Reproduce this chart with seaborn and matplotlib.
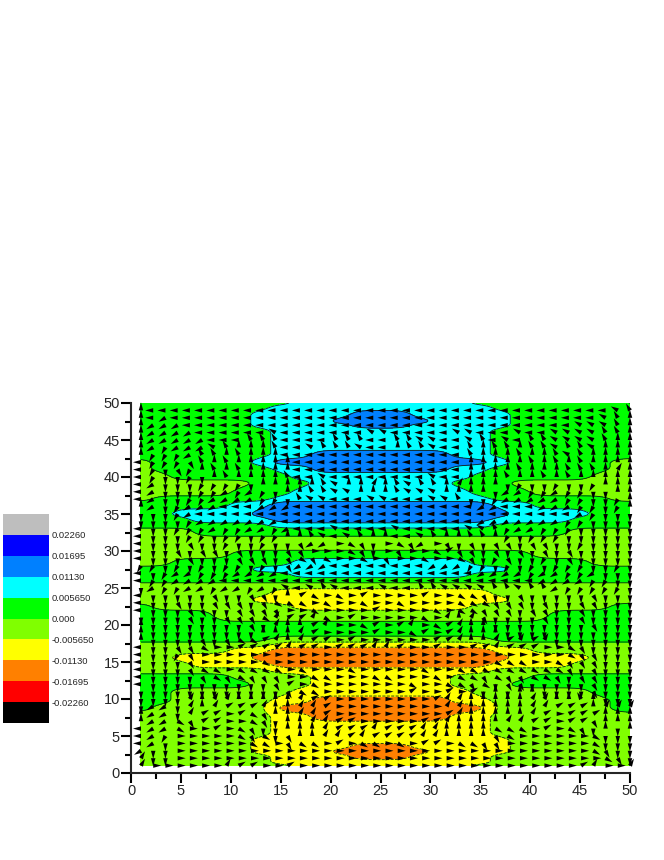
#!/usr/bin/env python
import matplotlib
matplotlib.use("Agg")
import matplotlib.pyplot as plt
from matplotlib.colors import ListedColormap
import numpy as np
import seaborn as sns

# colour key, bottom to top
band_colors = ["#000000", "#FF0000", "#FF8000", "#FFFF00", "#80FF00",
               "#00FF00", "#00FFFF", "#0080FF", "#0000FF", "#BEBEBE"]
key_levels = [-0.02260, -0.01695, -0.01130, -0.005650, 0.0,
              0.005650, 0.01130, 0.01695, 0.02260]
key_labels = ["-0.02260", "-0.01695", "-0.01130", "-0.005650", "0.000",
              "0.005650", "0.01130", "0.01695", "0.02260"]

# contour map: one digit per column = band number
# 3 orange, 4 yellow, 5 yellow-green, 6 green, 7 cyan, 8 mid blue
map_x = [1, 3, 5, 7, 9, 11, 13, 15, 17, 19, 21, 23, 25, 27, 29, 31, 33, 35, 37, 39, 41, 43, 45, 47, 49, 50]
map_y = [50, 49.5, 48.5, 47.5, 47, 46.2, 45, 44.2, 43, 42, 41.2, 40, 39.2, 37.9, 37, 36.4, 35, 34.2,
         33.4, 32.8, 31.2, 30.6, 29.6, 28.4, 27.5, 26.8, 26, 25.4, 24.4, 23.4, 22.5, 21.5,
         19.5, 18.9, 18.1, 17.3, 16.7, 15.6, 14.6, 13.8, 13, 12, 11, 9.8, 8.8, 7.6, 6.4, 5.4,
         4.4, 3.6, 2.9, 2.2, 1.4, 1]
map_rows = [
    "66666666 77777 7777 66666666 5",
    "6666666 777777 77777 6666666 6",
    "666666 77777 88 8 77777 666666 6",
    "666666 7777 888 88 7777 666666 6",
    "666666 77777 88 8 77777 666666 6",
    "6666666 777777 77777 6666666 6",
    "6666666 777777 77777 6666666 6",
    "6666666 777777 77777 6666666 6",
    "6666666 77 8888 888 77 6666666 6",
    "5 66666 7 888888 88888 7 66666 5 5",
    "5 666666 77 8888 888 77 666666 5 5",
    "55 666666 77777 7777 666666 555",
    "555555 666 7777 777 666 555555 5",
    "55555 666 77777 7777 666 55555 5",
    "5 666666 777777 77777 666666 55",
    "66666 77 888888 88888 77 66666 6",
    "66 7777 8888888 888888 7777 66 6",
    "666 7777 888888 88888 7777 666 6",
    "6666666 777777 77777 6666666 6",
    "555 6666666666 666666666 555 5",
    "55555555555555555555555555",
    "55555555555555555555555555",
    "55555 66666666 6666666 55555 5",
    "55 666666 77777 7777 666666 55 5",
    "666666 7777777 777777 666666 6",
    "66666666 77777 7777 66666666 6",
    "66666666666666666666666666",
    "55555555555555555555555555",
    "5555555 444444 44444 5555555 5",
    "555555 4444444 444444 555555 5",
    "6 5555555 44444 4444 5555555 66",
    "6666 555555555 55555555 6666 6",
    "66666666666666666666666666",
    "66666666666666666666666666",
    "6666666 555555 55555 6666666 6",
    "5555555 444444 44444 5555555 5",
    "55555 44 333333 33333 44 55555 5",
    "55 4444 3333333 333333 4444 55 5",
    "555 4444 333333 33333 4444 555 5",
    "5555555 444444 44444 5555555 5",
    "66666 5555 4444 444 5555 66666 6",
    "666666 555 4444 444 555 666666 6",
    "66 555555 44444 4444 555555 66 6",
    "66 55555 44 3333 333 44 55555 5 6 6",
    "6 555555 333333 33333 555555 6 6",
    "5555555 44 3333 333 44 5555555 5",
    "5555555 444444 44444 5555555 5",
    "5555555 444444 44444 5555555 5",
    "555555 4444444 444444 555555 5",
    "555555 44444 33 3 44444 555555 5",
    "555555 4444 333 33 4444 555555 5",
    "5555555 4444 33 3 4444 5555555 5",
    "5555555 444444 44444 5555555 5",
    "55555555 44444 4444 55555555 6",
]

# arrow directions read per x unit, top row y=50, left column x=1; 0 = no arrow
# arrows sit about 1.225 apart in x and 1 apart in y
arrow_y = list(range(50, 0, -1))
key_dirs = {"r": 0, "s": 30, "t": 60, "u": 90, "v": 120, "w": 150,
            "l": 180, "m": 210, "n": 240, "d": 270, "e": 300, "f": 330}
arrow_rows = [
    "000 000000000 0000 00000000000000000 0000 000000000 0000",
    "ull lllllllll llll lllllllllllllllll llll lllllllll llwv",
    "ulm mllllllll llll lllllllllllllllll llll lllllllll lwvu",
    "umm mmlllllll llll lllllllllllllllll llll lllllllww wwvu",
    "umm mmmllllll lwwl lllllllwwlllllllw wlll lwllwwwww wvvu",
    "umm mmmmllllv vvwl lllwvvvlllvvwwlll wvvl wlvvwwwww vvuu",
    "umn nmmmwvvuu uvvl lwvuvvwllwuvvwwll vuuv vuvvuwvvw vuuu",
    "unn nnmvvuuvu uuvl lllllllllllllllll vuuu uvuuvvwvu uuuu",
    "lnn nnevuuvuu uuuu lllllllllllllllll uuuu uuvuuvuvu uuuu",
    "lnd denuvuuvu uuuu lllllllllllllllll uuuu uvuuvuvvv uutu",
    "lnd ddnduuvuu uuuv llwvlllllllllwvll uuuu vuuvuuvuu uuuu",
    "lmd dddnndnnd uuuu uuvvwuutuvvwvvuut uuuu dnddnnddn duuu",
    "lmd dddnnmmnm nddu uvvwwwuuuuvwwwvuu uuud mmnnmmnnd dduu",
    "lmd ddnnmmmmm nndd vwwwlllwwwlllwwwv dddn mmmmmmnnd ddnu",
    "umd dnmmmmlll mmlm lllllllllllllllll lmmm lllmmmmnn ddnu",
    "ddd dnmllllll llll lllllllllllllllll llll lllllllmn dddd",
    "ddd ddnmmmmmm mmml lllllllllllllllll lmmm mmmmmmnnd dddd",
    "ldd dnnnmmnnm mnmm lllwwllllwwllllll wwvv nmmnnnndd dddd",
    "ldd ddnnddnnd nnvu uvwllwvuuwllwvuuu vvuu ndnnnnddd dddd",
    "ldd ddeddnndd nddd emmrrfedrsfemrred edde edeedddnd dddd",
    "ldd dedeedded ddee errsrfedrrerrfrse edde dededdedd dddd",
    "ldd ndeddedee edde fefrrrfreerrfrerf eddn eddnddedd dddd",
    "nnd nndnddnnd ndee mmmmlllllllllmmmm nndd ndnddnnnd ddnd",
    "ldn nmmnnmnmm mmml lllllllllllllllll lmmm mmnmnmnnm nddd",
    "lnn mmmmmmlll llll lllllllllllllllll llll lllmmmmmn nndd",
    "dmn mnmmnmmmn mnmw lwvvwlllwwllvvwww wwwv vwvvmmnnn nnnd",
    "ldd ddddeddde eduu sfrrfrsrrfrrsrfrf fedd deddeddde dddd",
    "ldd deddedeed efff frfrrrfrrrfrrrfrf ffee eedeeddee dddd",
    "ldd edeededee eefr rfrrrrrsrrrrrfrrf feee edeeedded dddd",
    "ddd ddedddeee ftus stfrrsrrrsrrfrstu teed dddeedded dddd",
    "udd dddddddde dtuu ustsrrfsrrstrfsst uudd dddddddde dddd",
    "udd ddddddddd uuuu tsrsrrrsrrrfsrrst uuuu ddddddddd dddd",
    "udd dddeddeff stuu tssrrsrrrsrrrsrst uutt ststtdddd dddd",
    "ldd deefrrrss sstt ssrrsssttssrrsrrr sstt sssrrrfed dddd",
    "ldd dnerrrrrr rrrr rrrrrrrrrrrrrrrrr rrrr rrrrrrfee dddd",
    "ldd dderrfrrr frrr rrrrrrrrrrrrrrrrr rrrf ffrrffeee dddd",
    "ldd ddefffrff ffrr frrrrfrrrrrrfrrrf ffff ffffffede dddd",
    "ldd dddefeefe eefr rfffrrrffrrrrfrrf feef eeffeedee dddd",
    "ldd dddddeddd defs rfrfrrrrrrrfrrrff efdd eedddddde dddd",
    "ddd ddddddddd ddde ffrsrrrrrrrsrrssr sdtu duuddddde dddd",
    "ddd ddtutstuu uuuu tssrrrrrrrrrrsstt uuuu uuttsuuvu dddd",
    "dmm ddtutssss tuuu ttsrrrrrrrrrrrstt uuuu uuttssssu tttt",
    "umm ndtssrrsf euuu ttssrrrrrrrrrrsst uuuu uutsrrsss uuuu",
    "umm nfesssrrf eduu uttsssrrrrrrssttu uuuu ttssrrsse duuu",
    "lmm nfrrsrrfe dddu uutsssstssssttuuu uuuf ffrsrrfed dudu",
    "lmn frrrrsrfe fdee uutttstsstssttuuu uuee frrrsrrrf dddd",
    "lmd frrrrrrrf frfe ffrssrffrrfrssrrf feee rrrrrrrrf eddd",
    "mdd errrrrrrr rrrr rrrrrrrrrrrrrrrrr rrrr rrrrrrrrf fedd",
    "tdd frrrrrrrr rrrr rrrrrrrrrrrrrrrrr rrrr rrrrrrrrr rfed",
    "trr rrrrrrtss rrrs rrrrrrrrrrrrrrrrr rrrr rrrrrrrst rrrt",
]

z = np.array([[(int(c) - 5.5) * 0.00565 for c in r.replace(" ", "")] for r in map_rows])

# resample the coarse table and round it off so the outlines are not blocky
fine_x = np.arange(1, 50.01, 0.25)
fine_y = np.arange(1, 50.01, 0.1)
rows_fx = np.array([np.interp(fine_x, map_x, row) for row in z])
zf = np.array([np.interp(fine_y, map_y[::-1], rows_fx[::-1, i]) for i in range(len(fine_x))]).T


def box(a, n, axis):
    pad = [(0, 0), (0, 0)]
    pad[axis] = (n, n)
    b = np.pad(a, pad, mode="edge")
    k = np.ones(2 * n + 1) / (2 * n + 1)
    return np.apply_along_axis(lambda m: np.convolve(m, k, mode="valid"), axis, b)


zf = box(box(zf, 4, 1), 4, 1)
zf = box(zf, 2, 0)

ax_list, ay_list, au, av = [], [], [], []
for j, r in enumerate(arrow_rows):
    r = r.replace(" ", "")
    for i in range(41):
        x_pos = 1 + 1.225 * i
        c = r[int(round(x_pos - 1))]
        if c == "0":
            continue
        ax_list.append(x_pos)
        ay_list.append(arrow_y[j])
        au.append(np.cos(np.radians(key_dirs[c])))
        av.append(np.sin(np.radians(key_dirs[c])))

sns.set_style("ticks")
plt.rcParams["font.family"] = ["Liberation Sans", "DejaVu Sans"]

fig = plt.figure(figsize=(6.64, 8.6), dpi=100)
ax = fig.add_axes([131 / 664, 87 / 860, 499 / 664, 370 / 860])

ax.contourf(fine_x, fine_y, zf, levels=key_levels, colors=band_colors[1:9])
ax.contour(fine_x, fine_y, zf, levels=key_levels, colors="#102010", linewidths=0.6)
ax.quiver(ax_list, ay_list, np.array(au) * 8, np.array(av) * 8, angles="uv", units="dots",
          scale_units="dots", scale=1, width=1, headwidth=4.5, headlength=8, headaxislength=8,
          pivot="tail", color="black", clip_on=False, zorder=5)

ax.set_xlim(0, 50)
ax.set_ylim(0, 50)
ax.set_xticks(np.arange(0, 51, 5))
ax.set_yticks(np.arange(0, 51, 5))
ax.set_xticks(np.arange(2.5, 50, 5), minor=True)
ax.set_yticks(np.arange(2.5, 50, 5), minor=True)
ax.tick_params(which="major", direction="out", length=7, width=1.5, labelsize=10.5, pad=1, color="black")
ax.tick_params(which="minor", direction="out", length=4, width=1.5, color="black")
sns.despine(ax=ax)
ax.spines["left"].set_linewidth(1.5)
ax.spines["bottom"].set_linewidth(1.5)

# colour key on the left
cax = fig.add_axes([3 / 664, (860 - 723) / 860, 46 / 664, 209 / 860])
key = np.arange(10)[::-1].reshape(-1, 1)
sns.heatmap(key, ax=cax, cmap=ListedColormap(band_colors), cbar=False, vmin=-0.5, vmax=9.5,
            xticklabels=False, yticklabels=False)
cax.set_yticks(np.arange(1, 10))
cax.set_yticklabels(key_labels[::-1], rotation=0)
cax.yaxis.tick_right()
cax.tick_params(axis="y", length=0, labelsize=6.8, pad=2)
cax.tick_params(axis="x", length=0)

fig.savefig("out.png", dpi=100)
